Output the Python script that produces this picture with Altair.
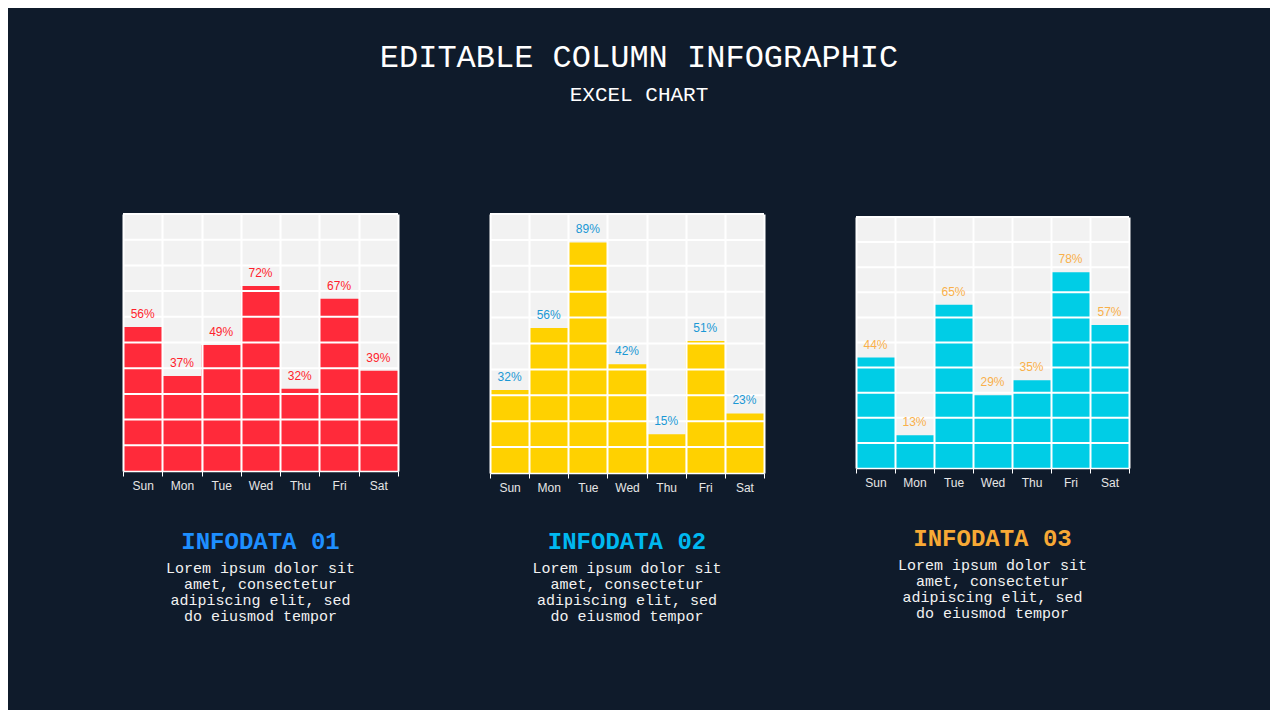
import pandas as pd
import altair as alt

DAYS = ["Sun", "Mon", "Tue", "Wed", "Thu", "Fri", "Sat"]
VALUES_01 = [56, 37, 49, 72, 32, 67, 39]
VALUES_02 = [32, 56, 89, 42, 15, 51, 23]
VALUES_03 = [44, 13, 65, 29, 35, 78, 57]
GRID_LEVELS = [10, 20, 30, 40, 50, 60, 70, 80, 90, 100]

HEADINGS = ["INFODATA 01", "INFODATA 02", "INFODATA 03"]
BODY = ["Lorem ipsum dolor sit", "amet, consectetur", "adipiscing elit, sed", "do eiusmod tempor"]

BG = "#0f1b2b"
MONO = "Liberation Mono"
SANS = "Liberation Sans"


def panel(values, bar_color, label_color, heading, heading_color, width, height, offset):
    df = pd.DataFrame({"day": DAYS, "value": values})
    y_scale = alt.Scale(domain=[0, 100])
    base = alt.Chart(df).encode(
        x=alt.X("day:N", sort=DAYS, title=None,
                scale=alt.Scale(paddingInner=0, paddingOuter=0),
                axis=alt.Axis(zindex=1)),
        y=alt.Y("value:Q", title=None, scale=y_scale, axis=None),
    )
    bars = base.mark_bar(color=bar_color, cornerRadius=0)
    # horizontal grid drawn over the bars, but under the value labels
    grid = alt.Chart(pd.DataFrame({"level": GRID_LEVELS})).mark_rule(
        color="white", strokeWidth=2
    ).encode(y=alt.Y("level:Q", scale=y_scale, axis=None))
    labels = base.mark_text(
        baseline="bottom", dy=-6, font=SANS, fontSize=12, color=label_color
    ).transform_calculate(label="datum.value + '%'").encode(text="label:N")

    return (bars + grid + labels).properties(
        width=width,
        height=height,
        title=alt.TitleParams(
            text=heading,
            subtitle=BODY,
            orient="bottom",
            anchor="middle",
            font=MONO,
            fontSize=24,
            fontWeight="bold",
            color=heading_color,
            subtitleFont=MONO,
            subtitleFontSize=15,
            subtitleColor="#f2f2f2",
            subtitleLineHeight=16,
            subtitlePadding=7,
            offset=offset,
        ),
    )


c1 = panel(VALUES_01, "#ff2a3a", "#ff1f2d", HEADINGS[0], "#1e8fff", 275, 257, 39)
c2 = panel(VALUES_02, "#ffd100", "#1a98d5", HEADINGS[1], "#00b8f0", 274, 259, 37)
c3 = panel(VALUES_03, "#00cde6", "#f9b04a", HEADINGS[2], "#f7a935", 273, 251, 39)

chart = alt.hconcat(c1, c2, c3, spacing=90, center=True).properties(
    title=alt.TitleParams(
        text="EDITABLE COLUMN INFOGRAPHIC",
        subtitle="EXCEL CHART",
        anchor="middle",
        dx=13,
        font=MONO,
        fontSize=32,
        fontWeight="normal",
        color="white",
        subtitleFont=MONO,
        subtitleFontSize=21,
        subtitleColor="white",
        subtitlePadding=10,
        offset=107,
    ),
    padding={"left": 114, "top": 33, "right": 140, "bottom": 86},
).configure(
    background=BG,
).configure_view(
    fill="#f2f2f2", strokeWidth=0
).configure_axisX(
    grid=True, gridColor="white", gridWidth=2, tickBand="extent",
    domainColor="white", domainWidth=1.5, tickColor="white", tickSize=5,
    labelColor="#e6e6e6", labelFont=SANS, labelFontSize=12, labelAngle=0,
    labelPadding=4,
)

chart.save("out.html", embed_options={"renderer": "svg", "actions": False})
